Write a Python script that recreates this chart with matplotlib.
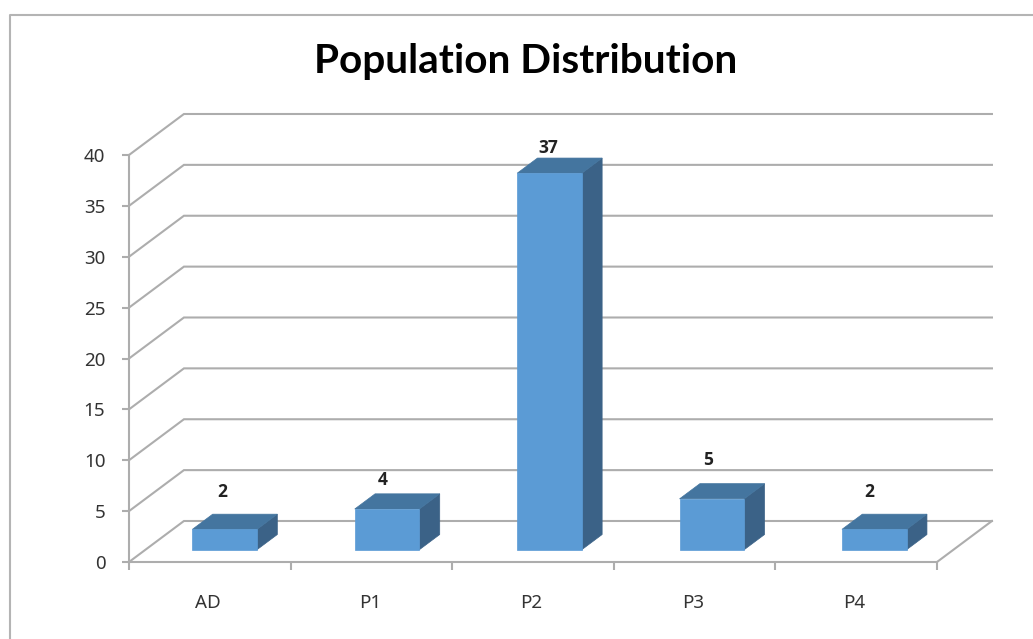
import matplotlib
matplotlib.use("Agg")
import matplotlib.pyplot as plt
from matplotlib.lines import Line2D
from matplotlib.patches import Polygon

categories = ["AD", "P1", "P2", "P3", "P4"]
values = [2, 4, 37, 5, 2]
y_ticks = [0, 5, 10, 15, 20, 25, 30, 35, 40]
chart_title = "Population Distribution"

W, H = 1033, 639
FRONT = "#5b9bd5"
TOP = "#44759f"
SIDE = "#3b6287"
LINE = "#adadad"
TEXT = "#333333"

# Oblique depth of the floor, in data units per unit of depth
DEPTH_X = 0.34
DEPTH_Y = 4.03
BAR_WIDTH = 0.40
BAR_PITCH = 1.005
BAR_NEAR = 0.30
BAR_FAR = 0.67

# Nudges of the value labels from the top of each bar, in points
label_nudges = [(-2, 27), (-3, 21), (-1, 18), (-3, 28), (-4, 27)]


def project(x, y, d):
    return x + d * DEPTH_X, y + d * DEPTH_Y


fig = plt.figure(figsize=(W / 100, H / 100), dpi=100, facecolor="white")

# Chart frame, open past the right and bottom edges of the figure
fig.add_artist(Line2D([9.5 / W, 9.5 / W, 1.0], [0.0, 1 - 14.5 / H, 1 - 14.5 / H],
                      transform=fig.transFigure, color="#b4b4b4", lw=1.5))

left, right, bottom, top = 129, 937, 562, 155
ax = fig.add_axes([left / W, 1 - bottom / H, (right - left) / W, (bottom - top) / H])
ax.set_xlim(0, len(categories))
ax.set_ylim(0, 40)
ax.patch.set_visible(False)

for side in ("top", "right"):
    ax.spines[side].set_visible(False)
for side in ("left", "bottom"):
    ax.spines[side].set_color(LINE)
    ax.spines[side].set_linewidth(1.5)

ax.set_yticks(y_ticks)
ax.set_xticks(range(len(categories) + 1))
ax.set_xticklabels([])
ax.set_xticks([i + 0.49 for i in range(len(categories))], labels=categories, minor=True)
ax.tick_params(axis="x", which="major", length=6, width=1.5, color=LINE)
ax.tick_params(axis="x", which="minor", length=0, pad=23, labelsize=13.5, labelcolor=TEXT)
ax.tick_params(axis="y", length=5, width=1.5, color=LINE, pad=12, labelsize=13.5, labelcolor=TEXT)
for lab in ax.get_xticklabels(minor=True) + ax.get_yticklabels():
    lab.set_family("Noto Sans")

# Side wall diagonals and back wall gridlines
for v in y_ticks:
    x0, y0 = project(0, v, 0)
    x1, y1 = project(0, v, 1)
    x2, y2 = project(len(categories), v, 1)
    ax.plot([x0, x1, x2], [y0, y1, y2], color=LINE, lw=1.5, clip_on=False, zorder=1,
            solid_joinstyle="miter")

# Right edge of the floor
ex0, ey0 = project(len(categories), 0, 0)
ex1, ey1 = project(len(categories), 0, 1)
ax.plot([ex0, ex1], [ey0, ey1], color=LINE, lw=1.5, clip_on=False, zorder=1)

# Oblique bars
for i, v in enumerate(values):
    centre = 0.49 + i * BAR_PITCH
    xa = centre - BAR_WIDTH / 2
    xb = centre + BAR_WIDTH / 2
    front = [project(xa, 0, BAR_NEAR), project(xb, 0, BAR_NEAR),
             project(xb, v, BAR_NEAR), project(xa, v, BAR_NEAR)]
    topf = [project(xa, v, BAR_NEAR), project(xb, v, BAR_NEAR),
            project(xb, v, BAR_FAR), project(xa, v, BAR_FAR)]
    sidef = [project(xb, 0, BAR_NEAR), project(xb, 0, BAR_FAR),
             project(xb, v, BAR_FAR), project(xb, v, BAR_NEAR)]
    for pts, col in ((sidef, SIDE), (topf, TOP), (front, FRONT)):
        ax.add_patch(Polygon(pts, closed=True, facecolor=col, edgecolor=col,
                             lw=0.5, zorder=3, clip_on=False))
    lx, ly = project(centre, v, BAR_NEAR)
    ax.annotate(str(v), (lx, ly), xytext=label_nudges[i], textcoords="offset points",
                ha="center", va="center", fontsize=12.5, fontweight="bold",
                family="Open Sans", color="#222222", zorder=4, annotation_clip=False)

fig.text(526 / W, 1 - 61 / H, chart_title, ha="center", va="center", fontsize=29.2,
         fontweight="bold", family="Lato", color="black")

fig.savefig("out.png", dpi=100, facecolor="white")
